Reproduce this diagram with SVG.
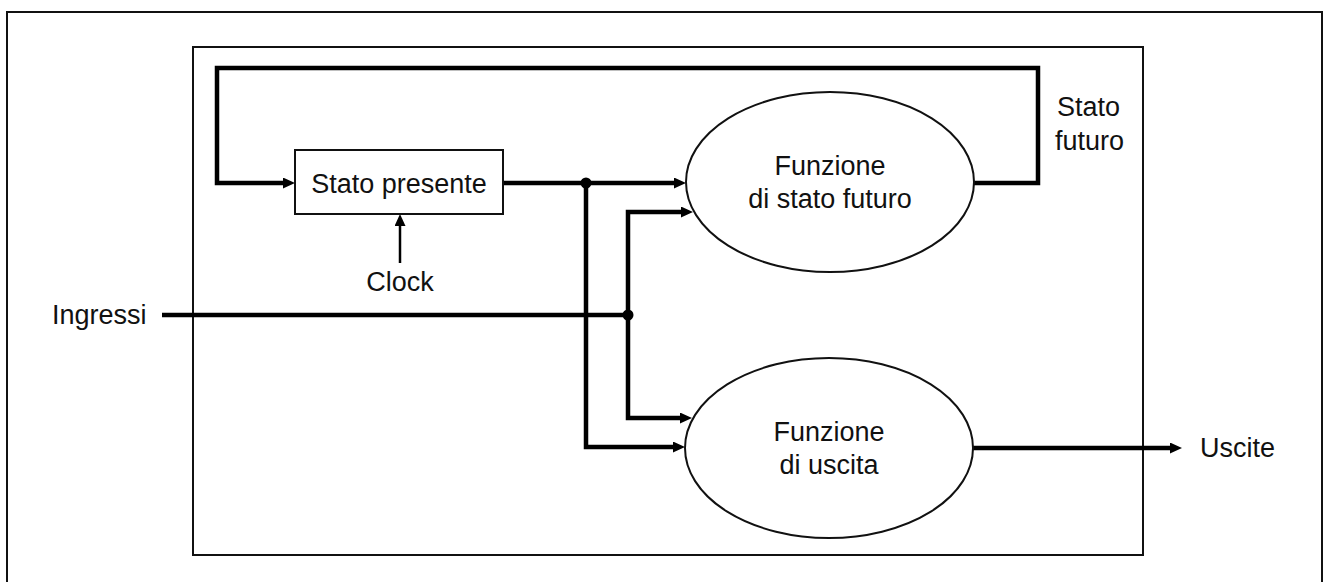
<svg xmlns="http://www.w3.org/2000/svg" width="1325" height="582" viewBox="0 0 1325 582">
  <style>
    .frame { fill: none; stroke: #111; stroke-width: 2; }
    .node { fill: #fff; stroke: #111; stroke-width: 2; }
    .wire { fill: none; stroke: #000; stroke-width: 4.5; stroke-linejoin: miter; stroke-linecap: butt; }
    .thin { fill: none; stroke: #000; stroke-width: 2.5; }
    .lbl { font-family: "Liberation Sans", Arial, sans-serif; font-size: 27px; fill: #111; }
    .mid { text-anchor: middle; }
  </style>
  <defs>
    <marker id="arrow" markerUnits="userSpaceOnUse" markerWidth="13" markerHeight="11" refX="4" refY="5.5" orient="auto">
      <path d="M0,0 L12,5.5 L0,11 z" fill="#000"/>
    </marker>
  </defs>

  <!-- page frames -->
  <path class="frame" d="M7,590 V12 H1322 V590"/>
  <rect class="frame" x="193" y="47" width="950" height="508"/>

  <!-- connectors -->
  <g id="connectors">
    <path class="wire" d="M974,183 H1038 V68 H217 V183 H287" marker-end="url(#arrow)"/>
    <path class="wire" d="M503,183 H678" marker-end="url(#arrow)"/>
    <path class="wire" d="M586,183 V447 H677" marker-end="url(#arrow)"/>
    <path class="wire" d="M162,315 H628"/>
    <path class="wire" d="M628,315 V212 H685" marker-end="url(#arrow)"/>
    <path class="wire" d="M628,315 V418 H684" marker-end="url(#arrow)"/>
    <path class="wire" d="M973,448 H1174" marker-end="url(#arrow)"/>
    <path class="thin" d="M400,263 V222" marker-end="url(#arrow)"/>
    <circle cx="586" cy="183" r="5.5" fill="#000"/>
    <circle cx="628" cy="315" r="5.5" fill="#000"/>
  </g>

  <!-- present-state register -->
  <g id="stato-presente">
    <rect class="node" x="295" y="150" width="208" height="64"/>
    <text class="lbl mid" x="399" y="193">Stato presente</text>
  </g>

  <!-- next-state logic -->
  <g id="funzione-stato-futuro">
    <ellipse class="node" cx="830" cy="182" rx="144" ry="90"/>
    <text class="lbl mid" x="830" y="175">Funzione</text>
    <text class="lbl mid" x="830" y="208">di stato futuro</text>
  </g>

  <!-- output logic -->
  <g id="funzione-uscita">
    <ellipse class="node" cx="829" cy="448" rx="144" ry="90"/>
    <text class="lbl mid" x="829" y="441">Funzione</text>
    <text class="lbl mid" x="829" y="474">di uscita</text>
  </g>

  <!-- signal labels -->
  <g id="labels">
    <text class="lbl mid" x="400" y="291">Clock</text>
    <text class="lbl" x="52" y="324">Ingressi</text>
    <text class="lbl" x="1057" y="116">Stato</text>
    <text class="lbl" x="1055" y="150">futuro</text>
    <text class="lbl" x="1200" y="457">Uscite</text>
  </g>
</svg>
